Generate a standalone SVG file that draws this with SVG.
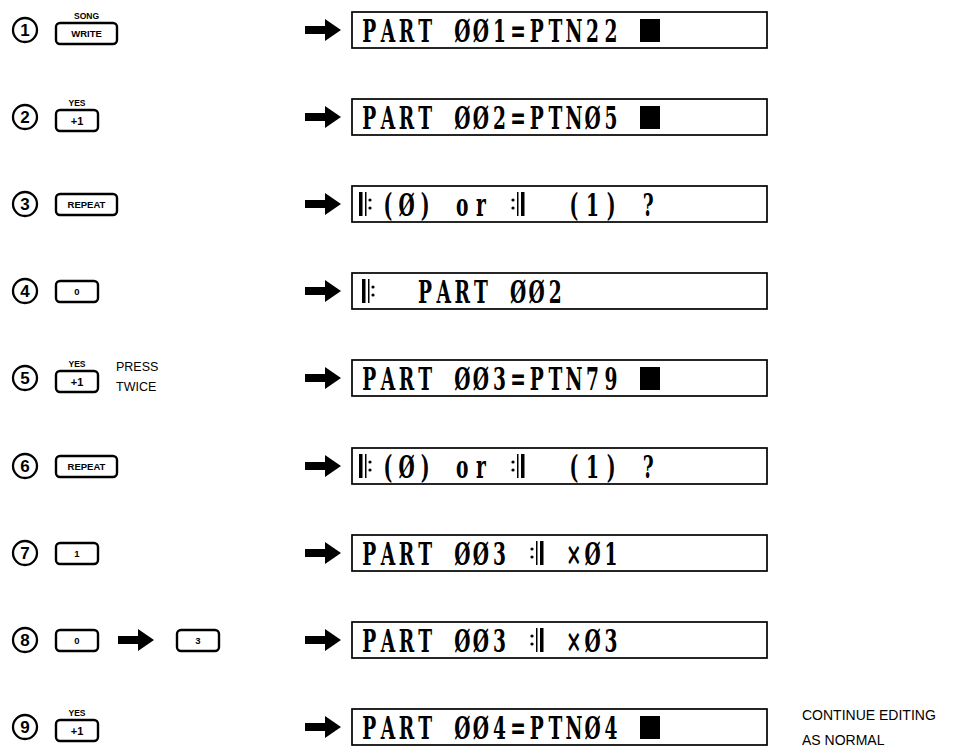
<svg xmlns="http://www.w3.org/2000/svg" xmlns:xlink="http://www.w3.org/1999/xlink" width="958" height="749" viewBox="0 0 958 749">
<style>
.bg{fill:#fff}
.box{fill:#fff;stroke:#000;stroke-width:1.7}
.key{fill:#fff;stroke:#000;stroke-width:2.4}
.ring{fill:#fff;stroke:#000;stroke-width:2.3}
.num{font-family:"Liberation Sans",Arial,sans-serif;font-weight:bold;font-size:17px;text-anchor:middle;fill:#000}
.klab{font-family:"Liberation Sans",Arial,sans-serif;font-weight:bold;font-size:8.5px;text-anchor:middle;fill:#000}
.kin{font-family:"Liberation Sans",Arial,sans-serif;font-weight:bold;font-size:9.5px;text-anchor:middle;fill:#000}
.kin2{font-family:"Liberation Sans",Arial,sans-serif;font-weight:bold;font-size:11px;text-anchor:middle;fill:#000}
.note{font-family:"Liberation Sans",Arial,sans-serif;font-size:12.5px;fill:#000}
.cont{font-family:"Liberation Sans",Arial,sans-serif;font-size:14px;fill:#000}
.lcd{font-family:"DejaVu Serif","Liberation Serif",serif;font-weight:bold;font-size:31px;text-anchor:middle;fill:#000}
.blk{fill:#000}
</style>
<defs>
<path id="arrow" d="M0,-4 H20 V-11 L36,0 L20,11 V4 H0 Z" fill="#000"/>
<g id="repL"><rect x="0" y="-12" width="3.5" height="24"/><rect x="6" y="-12" width="1.5" height="24"/><circle cx="11" cy="-4" r="1.6"/><circle cx="11" cy="4" r="1.6"/></g>
<g id="repR"><circle cx="0" cy="-4" r="1.6"/><circle cx="0" cy="4" r="1.6"/><rect x="4" y="-12" width="1.5" height="24"/><rect x="8" y="-12" width="3.5" height="24"/></g>
</defs>
<rect class="bg" x="0" y="0" width="958" height="749"/>

<g id="connectors">
<use xlink:href="#arrow" href="#arrow" transform="translate(305,30)"/>
<use xlink:href="#arrow" href="#arrow" transform="translate(305,117)"/>
<use xlink:href="#arrow" href="#arrow" transform="translate(305,204)"/>
<use xlink:href="#arrow" href="#arrow" transform="translate(305,291)"/>
<use xlink:href="#arrow" href="#arrow" transform="translate(305,378)"/>
<use xlink:href="#arrow" href="#arrow" transform="translate(305,466)"/>
<use xlink:href="#arrow" href="#arrow" transform="translate(305,553)"/>
<use xlink:href="#arrow" href="#arrow" transform="translate(305,640)"/>
<use xlink:href="#arrow" href="#arrow" transform="translate(305,727)"/>
<use xlink:href="#arrow" href="#arrow" transform="translate(118,640)"/>
</g>

<g id="step1">
<circle class="ring" cx="25" cy="30" r="12"/><text class="num" x="25" y="36">1</text>
<text class="klab" x="86.5" y="19">SONG</text>
<rect class="key" x="56" y="23" width="61" height="21" rx="4"/><text class="kin" x="86.5" y="37">WRITE</text>
</g>
<g id="display1">
<rect class="box" x="352" y="12" width="415" height="36"/>
<text class="lcd" transform="translate(360,42) scale(0.6,1)" x="15.5 46.5 77.5 108.5 139.5 170.5 201.5 232.5 263.5 294.5 325.5 356.5 387.5 418.5">PART ØØ1=PTN22</text>
<rect class="blk" x="640" y="19" width="20" height="23"/>
</g>

<g id="step2">
<circle class="ring" cx="25" cy="117" r="12"/><text class="num" x="25" y="123">2</text>
<text class="klab" x="77" y="106">YES</text>
<rect class="key" x="56" y="110" width="42" height="21" rx="4"/><text class="kin2" x="77" y="124.5">+1</text>
</g>
<g id="display2">
<rect class="box" x="352" y="99" width="415" height="36"/>
<text class="lcd" transform="translate(360,129) scale(0.6,1)" x="15.5 46.5 77.5 108.5 139.5 170.5 201.5 232.5 263.5 294.5 325.5 356.5 387.5 418.5">PART ØØ2=PTNØ5</text>
<rect class="blk" x="640" y="106" width="20" height="23"/>
</g>

<g id="step3">
<circle class="ring" cx="25" cy="204" r="12"/><text class="num" x="25" y="210">3</text>
<rect class="key" x="56" y="194" width="61" height="21" rx="4"/><text class="kin" x="86.5" y="208">REPEAT</text>
</g>
<g id="display3">
<rect class="box" x="352" y="186" width="415" height="36"/>
<use xlink:href="#repL" href="#repL" transform="translate(359,204)"/>
<text class="lcd" transform="translate(360,216) scale(0.6,1)" x="46.5 77.5 108.5 139.5 170.5 201.5 232.5 356.5 387.5 418.5 449.5 480.5">(Ø) or (1) ?</text>
<use xlink:href="#repR" href="#repR" transform="translate(513,204)"/>
</g>

<g id="step4">
<circle class="ring" cx="25" cy="291" r="12"/><text class="num" x="25" y="297">4</text>
<rect class="key" x="56" y="281" width="42" height="21" rx="4"/><text class="kin" x="77" y="294.5">0</text>
</g>
<g id="display4">
<rect class="box" x="352" y="273" width="415" height="36"/>
<use xlink:href="#repL" href="#repL" transform="translate(362,291)"/>
<text class="lcd" transform="translate(360,303) scale(0.6,1)" x="108.5 139.5 170.5 201.5 232.5 263.5 294.5 325.5">PART ØØ2</text>
</g>

<g id="step5">
<circle class="ring" cx="25" cy="378" r="12"/><text class="num" x="25" y="384">5</text>
<text class="klab" x="77" y="367">YES</text>
<rect class="key" x="56" y="371" width="42" height="21" rx="4"/><text class="kin2" x="77" y="385.5">+1</text>
<text class="note" x="116" y="371">PRESS</text>
<text class="note" x="116" y="391">TWICE</text>
</g>
<g id="display5">
<rect class="box" x="352" y="360" width="415" height="36"/>
<text class="lcd" transform="translate(360,390) scale(0.6,1)" x="15.5 46.5 77.5 108.5 139.5 170.5 201.5 232.5 263.5 294.5 325.5 356.5 387.5 418.5">PART ØØ3=PTN79</text>
<rect class="blk" x="640" y="367" width="20" height="23"/>
</g>

<g id="step6">
<circle class="ring" cx="25" cy="466" r="12"/><text class="num" x="25" y="472">6</text>
<rect class="key" x="56" y="456" width="61" height="21" rx="4"/><text class="kin" x="86.5" y="470">REPEAT</text>
</g>
<g id="display6">
<rect class="box" x="352" y="448" width="415" height="36"/>
<use xlink:href="#repL" href="#repL" transform="translate(359,466)"/>
<text class="lcd" transform="translate(360,478) scale(0.6,1)" x="46.5 77.5 108.5 139.5 170.5 201.5 232.5 356.5 387.5 418.5 449.5 480.5">(Ø) or (1) ?</text>
<use xlink:href="#repR" href="#repR" transform="translate(513,466)"/>
</g>

<g id="step7">
<circle class="ring" cx="25" cy="553" r="12"/><text class="num" x="25" y="559">7</text>
<rect class="key" x="56" y="543" width="42" height="21" rx="4"/><text class="kin" x="77" y="556.5">1</text>
</g>
<g id="display7">
<rect class="box" x="352" y="535" width="415" height="36"/>
<text class="lcd" transform="translate(360,565) scale(0.6,1)" x="15.5 46.5 77.5 108.5 139.5 170.5 201.5 232.5 263.5 356.5 387.5 418.5">PART ØØ3 ×Ø1</text>
<use xlink:href="#repR" href="#repR" transform="translate(532,553)"/>
</g>

<g id="step8">
<circle class="ring" cx="25" cy="640" r="12"/><text class="num" x="25" y="646">8</text>
<rect class="key" x="56" y="630" width="42" height="21" rx="4"/><text class="kin" x="77" y="643.5">0</text>
<rect class="key" x="177" y="630" width="42" height="21" rx="4"/><text class="kin" x="198" y="643.5">3</text>
</g>
<g id="display8">
<rect class="box" x="352" y="622" width="415" height="36"/>
<text class="lcd" transform="translate(360,652) scale(0.6,1)" x="15.5 46.5 77.5 108.5 139.5 170.5 201.5 232.5 263.5 356.5 387.5 418.5">PART ØØ3 ×Ø3</text>
<use xlink:href="#repR" href="#repR" transform="translate(532,640)"/>
</g>

<g id="step9">
<circle class="ring" cx="25" cy="727" r="12"/><text class="num" x="25" y="733">9</text>
<text class="klab" x="77" y="716">YES</text>
<rect class="key" x="56" y="720" width="42" height="21" rx="4"/><text class="kin2" x="77" y="734.5">+1</text>
</g>
<g id="display9">
<rect class="box" x="352" y="709" width="415" height="36"/>
<text class="lcd" transform="translate(360,739) scale(0.6,1)" x="15.5 46.5 77.5 108.5 139.5 170.5 201.5 232.5 263.5 294.5 325.5 356.5 387.5 418.5">PART ØØ4=PTNØ4</text>
<rect class="blk" x="640" y="716" width="20" height="23"/>
</g>
<g id="note9">
<text class="cont" x="802" y="720">CONTINUE EDITING</text>
<text class="cont" x="802" y="745">AS NORMAL</text>
</g>
</svg>
